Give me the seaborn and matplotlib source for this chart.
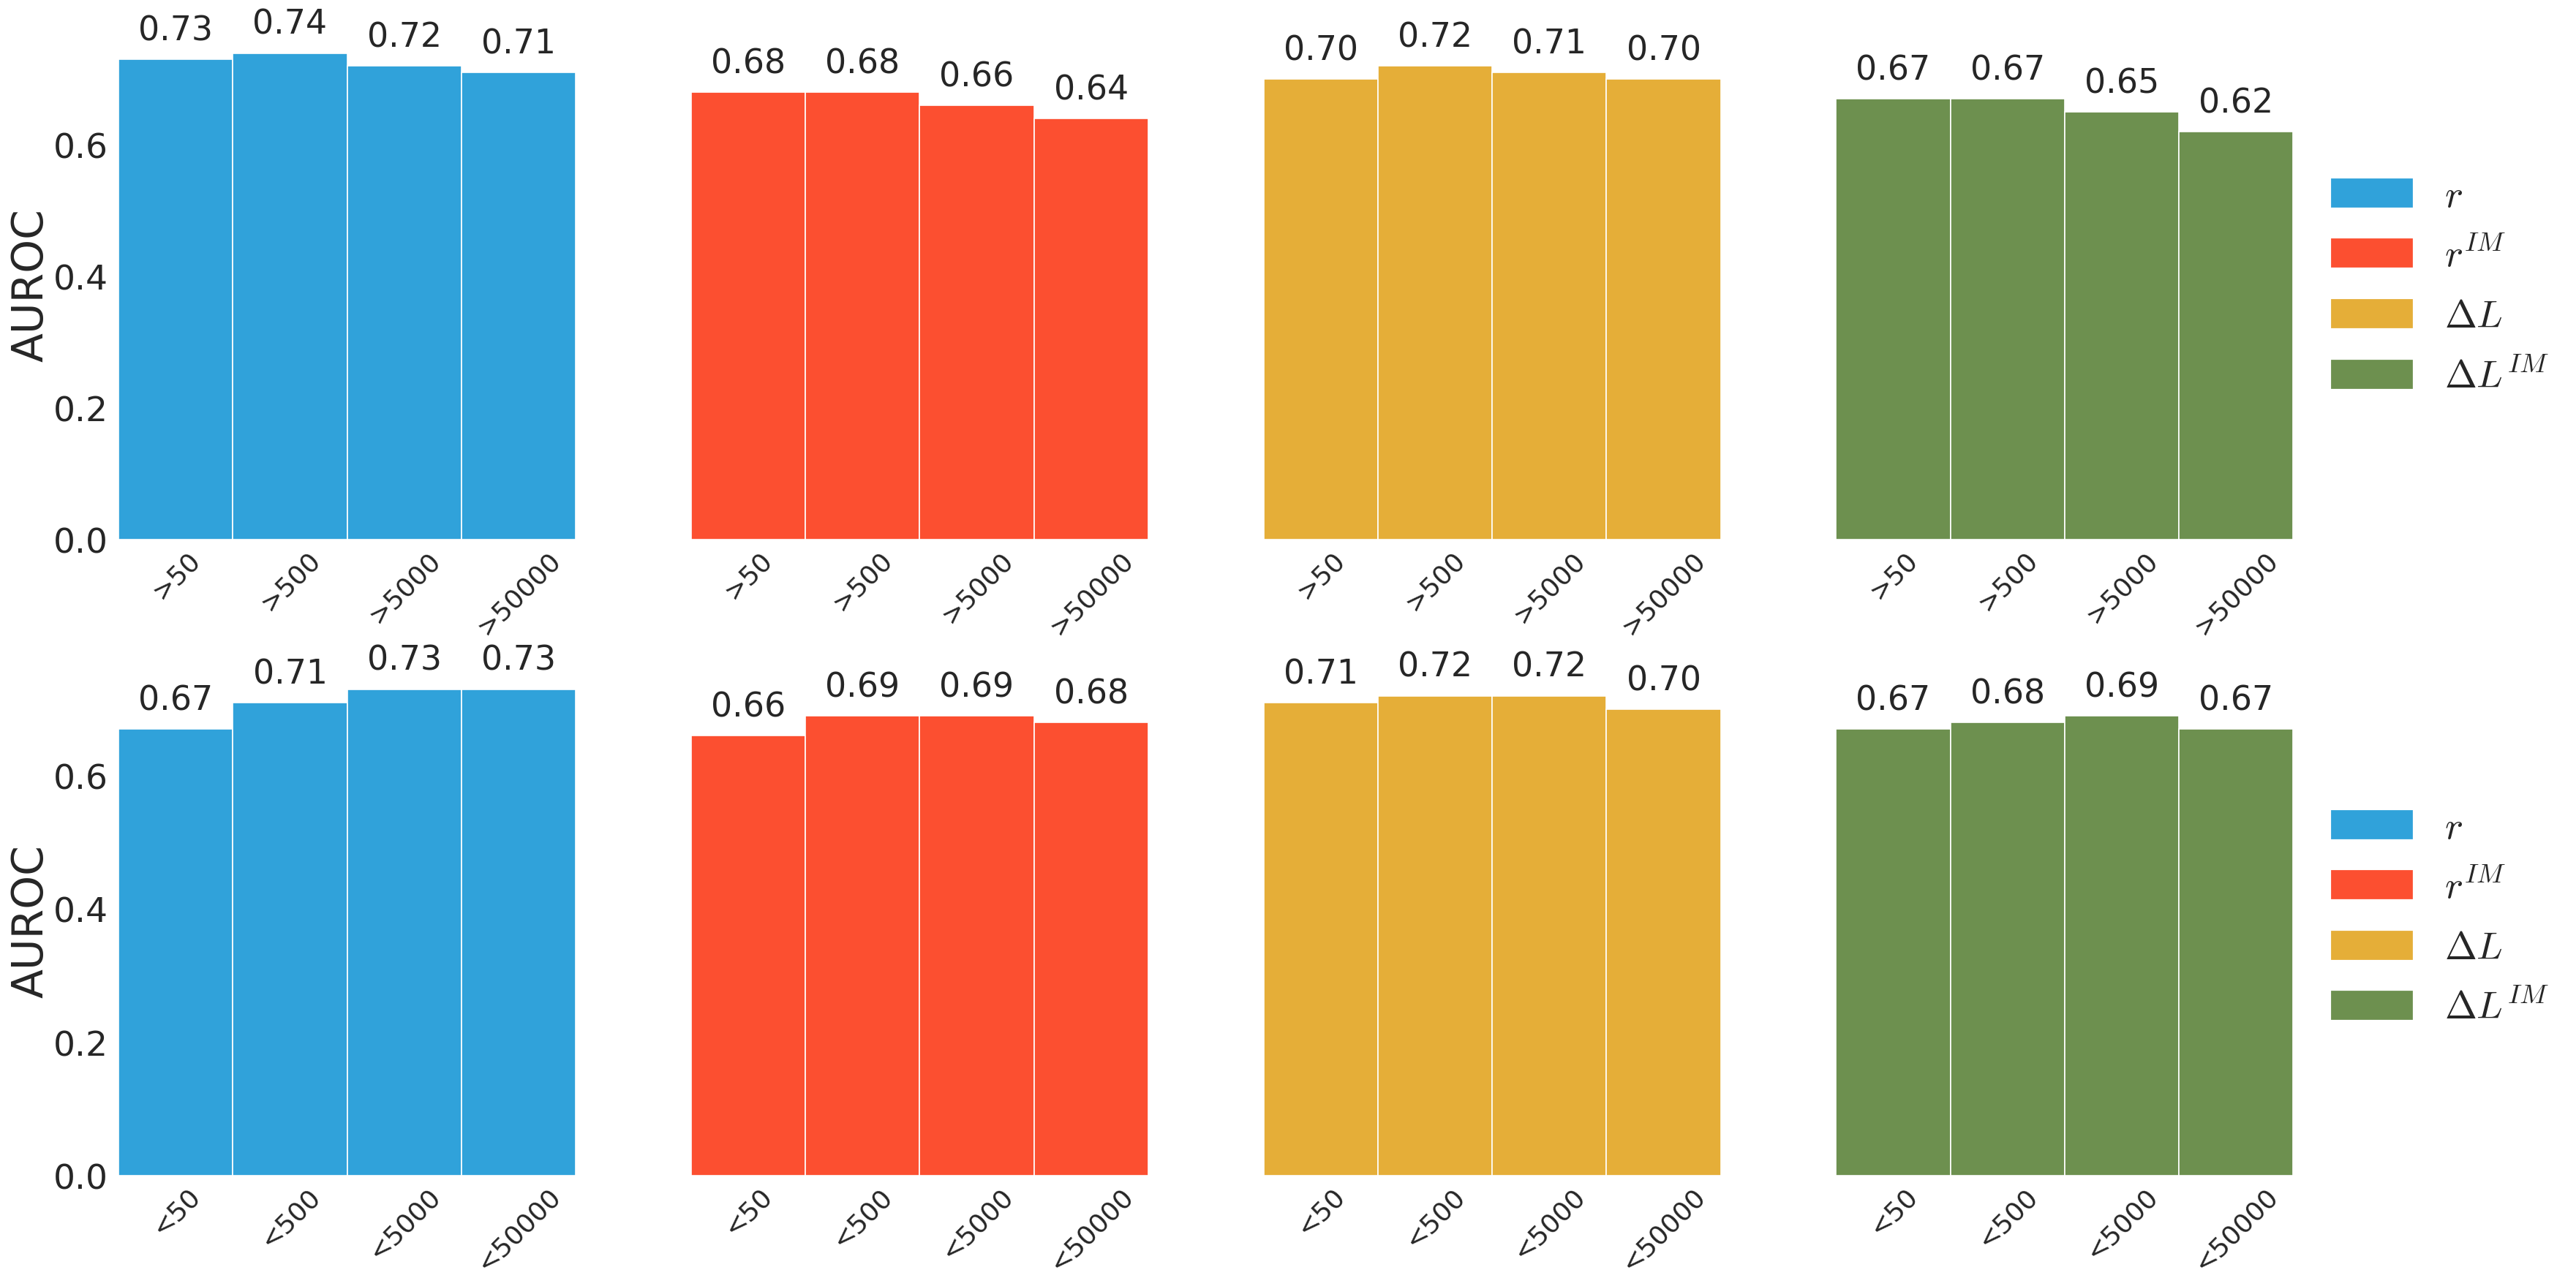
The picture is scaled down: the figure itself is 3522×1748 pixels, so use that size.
import pandas as pd
import matplotlib
matplotlib.use('Agg')
import matplotlib.pyplot as plt
import matplotlib.patches as mpatches
import seaborn as sns

sns.set_style('white')
plt.rcParams['font.family'] = ['DejaVu Sans']
plt.rcParams['mathtext.fontset'] = 'cm'

# data
top_labels = ['>50', '>500', '>5000', '>50000']
bottom_labels = ['<50', '<500', '<5000', '<50000']
metric_names = ['$r$', '$r^{IM}$', '$\\Delta L$', '$\\Delta L^{IM}$']
colors = ['#30A2DA', '#FC4F30', '#E5AE38', '#6D904F']

r_top = [0.73, 0.74, 0.72, 0.71]
rim_top = [0.68, 0.68, 0.66, 0.64]
dl_top = [0.70, 0.72, 0.71, 0.70]
dlim_top = [0.67, 0.67, 0.65, 0.62]

r_bottom = [0.67, 0.71, 0.73, 0.73]
rim_bottom = [0.66, 0.69, 0.69, 0.68]
dl_bottom = [0.71, 0.72, 0.72, 0.70]
dlim_bottom = [0.67, 0.68, 0.69, 0.67]

rows = [
    (top_labels, [r_top, rim_top, dl_top, dlim_top]),
    (bottom_labels, [r_bottom, rim_bottom, dl_bottom, dlim_bottom]),
]
legend_y = [0.497, 0.506]

fig, axes = plt.subplots(2, 4, figsize=(17.615, 8.745), dpi=200)
fig.subplots_adjust(left=0.046, right=0.89, top=0.977, bottom=0.08, hspace=0.245, wspace=0.252)

for i, (labels, series) in enumerate(rows):
    row_max = max(max(s) for s in series)
    for j, vals in enumerate(series):
        ax = axes[i, j]
        df = pd.DataFrame({'bin': labels, 'auroc': vals})
        sns.barplot(data=df, x='bin', y='auroc', color=colors[j], saturation=1,
                    width=1, edgecolor='white', linewidth=0.6, ax=ax)
        ax.bar_label(ax.containers[0], fmt='%.2f', padding=6, fontsize=16.5)
        ax.set_ylim(0, row_max * 1.05)
        ax.set_xlim(-0.5, 3.5)
        ax.set_xlabel('')
        for s in ax.spines.values():
            s.set_visible(False)
        ax.tick_params(axis='x', labelrotation=45, labelsize=13, length=0)
        ax.tick_params(axis='y', labelsize=17, length=0, pad=5)
        if j == 0:
            ax.set_ylabel('AUROC', fontsize=21, labelpad=1)
            ax.set_yticks([0.0, 0.2, 0.4, 0.6])
        else:
            ax.set_ylabel('')
            ax.set_yticks([])
    handles = [mpatches.Patch(color=c, label=n) for c, n in zip(colors, metric_names)]
    axes[i, 3].legend(handles=handles, loc='center left', bbox_to_anchor=(1.008, legend_y[i]),
                      frameon=False, fontsize=19, handlelength=2.06, handleheight=0.7,
                      labelspacing=0.58, handletextpad=0.85)

fig.savefig('out.png', dpi=200)
